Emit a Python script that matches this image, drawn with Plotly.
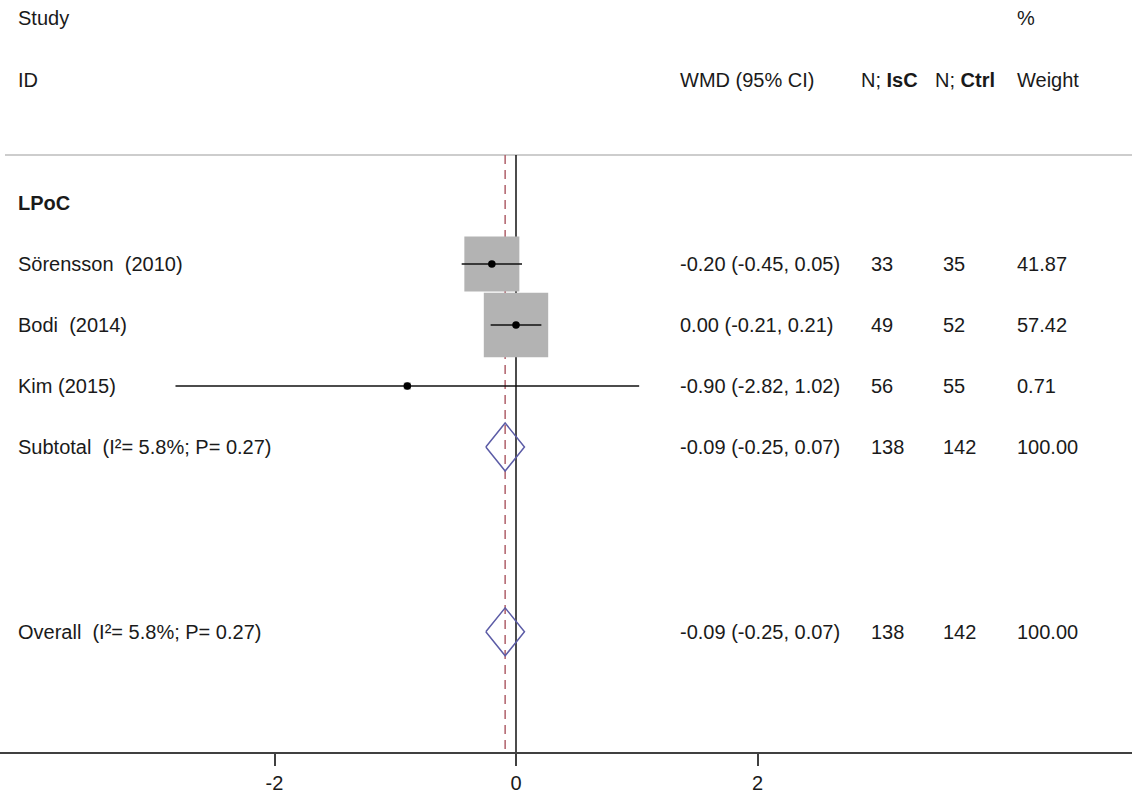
import plotly.graph_objects as go

# ---- data ----
study_labels = ["Sörensson  (2010)", "Bodi  (2014)", "Kim (2015)"]
study_est = [-0.20, 0.00, -0.90]
study_lo = [-0.45, -0.21, -2.82]
study_hi = [0.05, 0.21, 1.02]
study_n_isc = [33, 49, 56]
study_n_ctrl = [35, 52, 55]
study_weight = [41.87, 57.42, 0.71]
study_rows = [2, 3, 4]

pooled_labels = ["Subtotal  (I²= 5.8%; P= 0.27)", "Overall  (I²= 5.8%; P= 0.27)"]
pooled_est = [-0.09, -0.09]
pooled_lo = [-0.25, -0.25]
pooled_hi = [0.07, 0.07]
pooled_n_isc = [138, 138]
pooled_n_ctrl = [142, 142]
pooled_weight = [100.00, 100.00]
pooled_rows = [5, 8.03]

group_label = "LPoC"
group_row = 1

x_ticks = [-2, 0, 2]

# ---- layout constants ----
W, H = 1132, 795
X_RANGE = [-4.2733, 5.1014]
Y_RANGE = [10.0, -2.328]
FONT = "Liberation Sans, Arial, sans-serif"
FS = 20
TXT = "#1a1a1a"
BOX_SCALE = 8.5          # px per sqrt(weight)
DIAMOND_HALF = 0.393     # half-height of pooled diamonds, in row units

fig = go.Figure()

# weighted boxes
for e, w, r in zip(study_est, study_weight, study_rows):
    fig.add_trace(go.Scatter(
        x=[e], y=[r], mode="markers",
        marker=dict(symbol="square", size=BOX_SCALE * w ** 0.5,
                    color="#b3b3b3", line=dict(width=0)),
        hoverinfo="skip", showlegend=False))

# confidence intervals and point estimates
for e, lo, hi, r in zip(study_est, study_lo, study_hi, study_rows):
    fig.add_trace(go.Scatter(
        x=[lo, hi], y=[r, r], mode="lines",
        line=dict(color="#111111", width=1.5),
        hoverinfo="skip", showlegend=False))
    fig.add_trace(go.Scatter(
        x=[e], y=[r], mode="markers",
        marker=dict(symbol="circle", size=7.5, color="#000000"),
        hoverinfo="skip", showlegend=False))

# pooled diamonds
for e, lo, hi, r in zip(pooled_est, pooled_lo, pooled_hi, pooled_rows):
    fig.add_trace(go.Scatter(
        x=[lo, e, hi, e, lo],
        y=[r, r - DIAMOND_HALF, r, r + DIAMOND_HALF, r],
        mode="lines", line=dict(color="#5c5ca6", width=1.5),
        hoverinfo="skip", showlegend=False))

# reference lines
top_rule = 0.213
fig.add_shape(type="line", xref="paper", yref="y", x0=5 / W, x1=1,
              y0=top_rule, y1=top_rule, line=dict(color="#bdbdbd", width=1.5),
              layer="below")
fig.add_shape(type="line", xref="x", yref="y", x0=0, x1=0,
              y0=top_rule, y1=Y_RANGE[0], line=dict(color="#111111", width=1.5),
              layer="below")
fig.add_shape(type="line", xref="x", yref="y", x0=pooled_est[1], x1=pooled_est[1],
              y0=top_rule, y1=Y_RANGE[0],
              line=dict(color="#b0606a", width=1.5, dash="9px,6px"),
              layer="below")

# text table
def px(x):
    return x / W

def add_text(x, y, text):
    fig.add_annotation(x=px(x), y=y, xref="paper", yref="y", text=text,
                       showarrow=False, xanchor="left", yanchor="middle",
                       font=dict(family=FONT, size=FS, color=TXT))

COL_ID, COL_WMD, COL_N1, COL_N2, COL_W = 16, 678, 869, 941, 1015

add_text(COL_ID, -2.03, "Study")
add_text(COL_ID, -1.02, "ID")
add_text(COL_WMD, -1.02, "WMD (95% CI)")
add_text(859, -1.02, "N; <b>IsC</b>")
add_text(933, -1.02, "N; <b>Ctrl</b>")
add_text(COL_W, -2.03, "%")
add_text(COL_W, -1.02, "Weight")

add_text(COL_ID, group_row, "<b>" + group_label + "</b>")

def wmd_text(e, lo, hi):
    return f"{e:.2f} ({lo:.2f}, {hi:.2f})"

for lab, e, lo, hi, n1, n2, w, r in zip(study_labels, study_est, study_lo, study_hi,
                                         study_n_isc, study_n_ctrl, study_weight,
                                         study_rows):
    add_text(COL_ID, r, lab)
    add_text(COL_WMD, r, wmd_text(e, lo, hi))
    add_text(COL_N1, r, str(n1))
    add_text(COL_N2, r, str(n2))
    add_text(COL_W, r, f"{w:.2f}")

for lab, e, lo, hi, n1, n2, w, r in zip(pooled_labels, pooled_est, pooled_lo, pooled_hi,
                                         pooled_n_isc, pooled_n_ctrl, pooled_weight,
                                         pooled_rows):
    add_text(COL_ID, r, lab)
    add_text(COL_WMD, r, wmd_text(e, lo, hi))
    add_text(COL_N1, r, str(n1))
    add_text(COL_N2, r, str(n2))
    add_text(COL_W, r, f"{w:.2f}")

fig.update_layout(
    width=W, height=H,
    margin=dict(l=0, r=0, t=0, b=43, pad=0),
    paper_bgcolor="white", plot_bgcolor="white",
    showlegend=False,
    xaxis=dict(range=X_RANGE, tickvals=x_ticks, ticktext=[str(t) for t in x_ticks],
               showgrid=False, zeroline=False, showline=True,
               linecolor="#404040", linewidth=2,
               ticks="outside", ticklen=12, tickwidth=1.5, tickcolor="#404040",
               tickfont=dict(family=FONT, size=FS, color=TXT), fixedrange=True),
    yaxis=dict(range=Y_RANGE, showgrid=False, zeroline=False, showline=False,
               showticklabels=False, ticks="", fixedrange=True),
)

fig.write_html("out.html")
